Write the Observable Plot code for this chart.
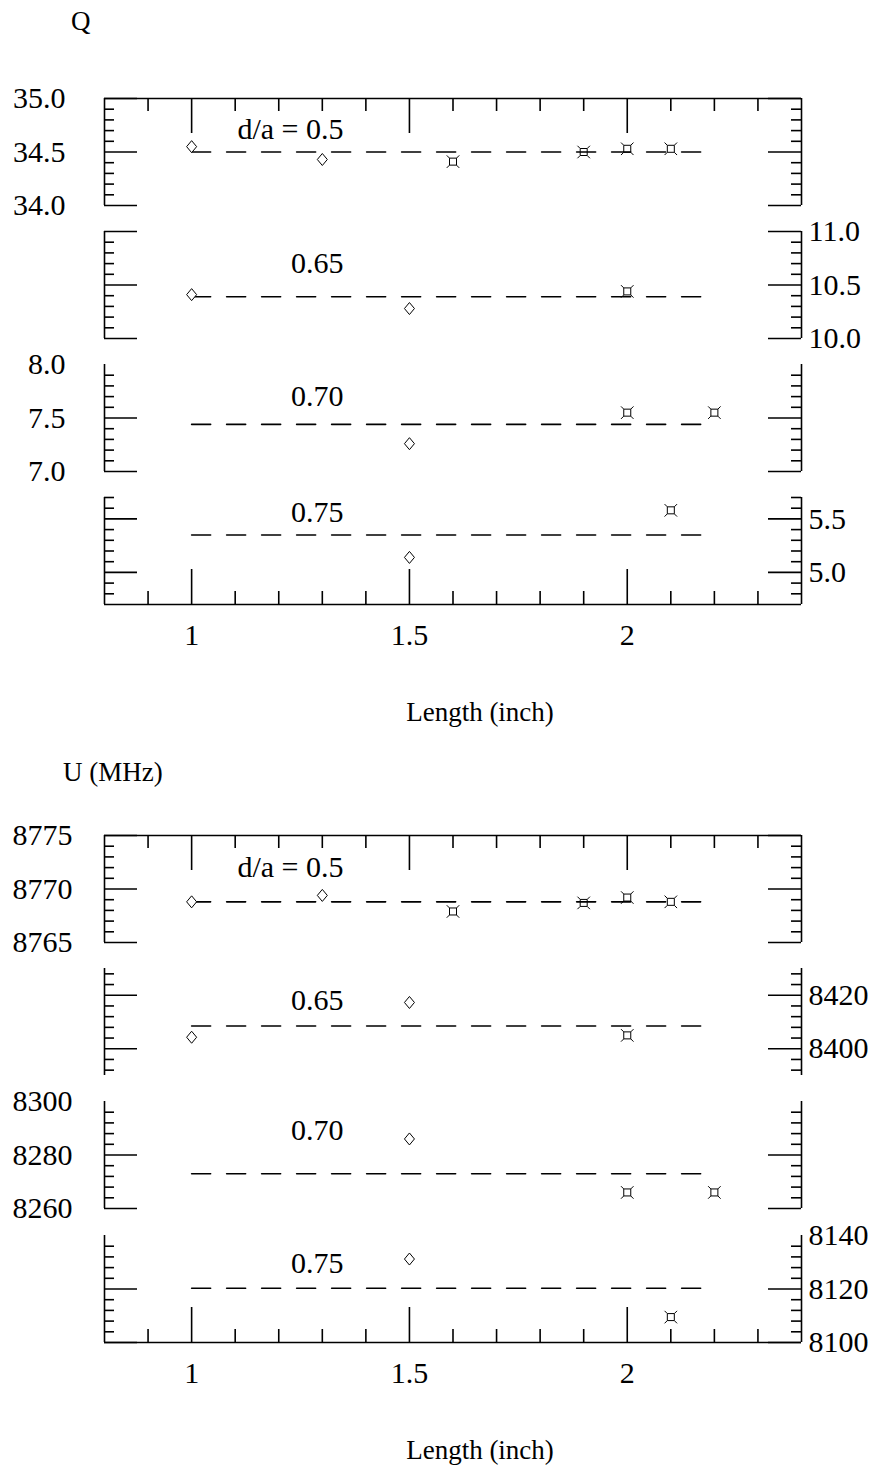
<!DOCTYPE html>
<html><head><meta charset="utf-8">
<script src="https://cdn.jsdelivr.net/npm/d3@7"></script>
<script src="https://cdn.jsdelivr.net/npm/@observablehq/plot@0.6"></script>
<style>
html,body{margin:0;padding:0;background:#fff;}
#root{position:relative;width:885px;height:1469px;font-family:"Liberation Serif","Times New Roman",serif;color:#000;}
.lbl{position:absolute;font-size:27px;line-height:30px;white-space:nowrap;}
.panel{position:absolute;left:0;}
</style></head><body><div id="root"></div>
<script>
// ---------- shared x axis ----------
const xDomain = [0.8, 2.4];
const xMajor = [1, 1.5, 2];
const xMinor = [0.9, 1.1, 1.2, 1.3, 1.4, 1.6, 1.7, 1.8, 1.9, 2.1, 2.2, 2.3];
const refLineX = [1.0, 2.2];
const panelTitles = ["d/a = 0.5", "0.65", "0.70", "0.75"];

// ---------- Q chart ----------
const qDomains = [[34, 35], [10, 11], [7, 8], [4.7, 5.7]];
const qMajor = [[34, 34.5, 35], [10, 10.5, 11], [7, 7.5], [5, 5.5]];
const qMinor = [
  [34.1, 34.2, 34.3, 34.4, 34.6, 34.7, 34.8, 34.9],
  [10.1, 10.2, 10.3, 10.4, 10.6, 10.7, 10.8, 10.9],
  [7.1, 7.2, 7.3, 7.4, 7.6, 7.7, 7.8, 7.9],
  [4.8, 4.9, 5.1, 5.2, 5.3, 5.4, 5.6, 5.7]
];
const qTickLabels = [[34, 34.5, 35], [10, 10.5, 11], [7, 7.5, 8], [5, 5.5]];
const qDiamondX = [[1.0, 1.3], [1.0, 1.5], [1.5], [1.5]];
const qDiamondY = [[34.55, 34.43], [10.41, 10.28], [7.26], [5.14]];
const qSquareX = [[1.6, 1.9, 2.0, 2.1], [2.0], [2.0, 2.2], [2.1]];
const qSquareY = [[34.41, 34.50, 34.53, 34.53], [10.44], [7.55, 7.55], [5.58]];
const qRef = [34.5, 10.39, 7.44, 5.35];

// ---------- U chart ----------
const uDomains = [[8765, 8775], [8390, 8430], [8260, 8300], [8100, 8140]];
const uMajor = [[8765, 8770, 8775], [8400, 8420], [8260, 8280], [8100, 8120]];
const uMinor = [
  [8766, 8767, 8768, 8769, 8771, 8772, 8773, 8774],
  [8392, 8396, 8404, 8408, 8412, 8416, 8424, 8428],
  [8264, 8268, 8272, 8276, 8284, 8288, 8292, 8296],
  [8104, 8108, 8112, 8116, 8124, 8128, 8132, 8136]
];
const uTickLabels = [[8765, 8770, 8775], [8400, 8420], [8260, 8280, 8300], [8100, 8120, 8140]];
const uDiamondX = [[1.0, 1.3], [1.0, 1.5], [1.5], [1.5]];
const uDiamondY = [[8768.8, 8769.4], [8404.3, 8417.3], [8286], [8131.2]];
const uSquareX = [[1.6, 1.9, 2.0, 2.1], [2.0], [2.0, 2.2], [2.1]];
const uSquareY = [[8767.9, 8768.7, 8769.2, 8768.8], [8405], [8266, 8266], [8109.5]];
const uRef = [8768.8, 8408.5, 8273, 8120.3];

// ---------- layout (styles / positions) ----------
const W = 885, ML = 104, MR = 84, PW = W - ML - MR, PH = 107;
const sides = ["left", "right", "left", "right"];
const qTops = [97.5, 230.5, 363.5, 497];
const uTops = [835, 968, 1101, 1235];
const qTitleDy = [30.5, 31.5, 31.5, 15];
const uTitleDy = [32, 32, 29, 28];

const diamondSym = {draw(ctx, size) {
  const r = Math.sqrt(size / Math.PI);
  ctx.moveTo(0, -r * 1.2); ctx.lineTo(r, 0); ctx.lineTo(0, r * 1.2); ctx.lineTo(-r, 0); ctx.closePath();
}};
const squareStarSym = {draw(ctx, size) {
  const r = Math.sqrt(size / Math.PI);
  const s = r * 0.7, t = s + r * 0.55;
  ctx.moveTo(-s, -s); ctx.lineTo(s, -s); ctx.lineTo(s, s); ctx.lineTo(-s, s); ctx.closePath();
  for (const [a, b] of [[-1, -1], [1, -1], [1, 1], [-1, 1]]) {
    ctx.moveTo(a * s, b * s); ctx.lineTo(a * t, b * t);
  }
}};

const root = document.getElementById("root");

function addLabel(text, left, top, center) {
  const d = document.createElement("div");
  d.className = "lbl";
  d.textContent = text;
  d.style.left = left + "px";
  d.style.top = top + "px";
  if (center) d.style.transform = "translateX(-50%)";
  root.appendChild(d);
}

function makePanel(i, cfg) {
  const first = i === 0, last = i === 3;
  const mt = 6, mb = last ? 60 : 6;
  const domain = cfg.domains[i];
  const side = sides[i];
  const diamonds = cfg.dx[i].map((x, k) => ({x, y: cfg.dy[i][k]}));
  const squares = cfg.sx[i].map((x, k) => ({x, y: cfg.sy[i][k]}));
  const refLine = refLineX.map(x => ({x, y: cfg.ref[i]}));
  const sw = 1.6;
  const marks = [
    Plot.ruleX(xDomain, {strokeWidth: sw}),
    Plot.tickY(cfg.major[i], {insetRight: PW - 33, strokeWidth: sw}),
    Plot.tickY(cfg.major[i], {insetLeft: PW - 33, strokeWidth: sw}),
    Plot.tickY(cfg.minor[i], {insetRight: PW - 10, strokeWidth: sw}),
    Plot.tickY(cfg.minor[i], {insetLeft: PW - 10, strokeWidth: sw}),
    Plot.axisY(cfg.labels[i], {
      anchor: side, tickSize: 0, label: null,
      tickPadding: side === "left" ? cfg.leftPad : 7,
      tickFormat: cfg.fmt, fontSize: 30
    }),
    Plot.line(refLine, {x: "x", y: "y", strokeWidth: 1.6, strokeDasharray: "19,16"}),
    Plot.dot(diamonds, {x: "x", y: "y", symbol: diamondSym, r: 5, stroke: "black", fill: "white", strokeWidth: 1}),
    Plot.dot(squares, {x: "x", y: "y", symbol: squareStarSym, r: 5, stroke: "black", fill: "none", strokeWidth: 1}),
    Plot.text([panelTitles[i]], {frameAnchor: "top-left", lineAnchor: "middle", dx: 239, dy: cfg.titleDy[i], textAnchor: "end", fontSize: 30})
  ];
  if (first) {
    marks.push(
      Plot.ruleY([domain[1]], {strokeWidth: sw}),
      Plot.tickX(xMajor, {insetBottom: PH - 35, strokeWidth: sw}),
      Plot.tickX(xMinor, {insetBottom: PH - 13, strokeWidth: sw})
    );
  }
  if (last) {
    marks.push(
      Plot.ruleY([domain[0]], {strokeWidth: sw}),
      Plot.tickX(xMajor, {insetTop: PH - 35, strokeWidth: sw}),
      Plot.tickX(xMinor, {insetTop: PH - 13, strokeWidth: sw}),
      Plot.axisX(xMajor, {anchor: "bottom", tickSize: 0, tickPadding: 19, label: null, tickFormat: d => String(d), fontSize: 30})
    );
  }
  const svg = Plot.plot({
    width: W, height: PH + mt + mb,
    marginLeft: ML, marginRight: MR, marginTop: mt, marginBottom: mb,
    x: {domain: xDomain, axis: null},
    y: {domain: domain, axis: null},
    style: {fontFamily: '"Liberation Serif", "Times New Roman", serif', fontSize: "30px", background: "transparent", color: "black", overflow: "visible"},
    marks
  });
  const wrap = document.createElement("div");
  wrap.className = "panel";
  wrap.style.top = (cfg.tops[i] - mt) + "px";
  wrap.appendChild(svg);
  root.appendChild(wrap);
}

const qCfg = {domains: qDomains, major: qMajor, minor: qMinor, labels: qTickLabels,
  dx: qDiamondX, dy: qDiamondY, sx: qSquareX, sy: qSquareY, ref: qRef,
  tops: qTops, titleDy: qTitleDy, leftPad: 39, fmt: d => d.toFixed(1)};
const uCfg = {domains: uDomains, major: uMajor, minor: uMinor, labels: uTickLabels,
  dx: uDiamondX, dy: uDiamondY, sx: uSquareX, sy: uSquareY, ref: uRef,
  tops: uTops, titleDy: uTitleDy, leftPad: 32, fmt: d => String(d)};

for (let i = 0; i < 4; i++) makePanel(i, qCfg);
for (let i = 0; i < 4; i++) makePanel(i, uCfg);

addLabel("Q", 71, 6, false);
addLabel("U (MHz)", 63, 757, false);
addLabel("Length (inch)", 480, 697, true);
addLabel("Length (inch)", 480, 1435, true);
</script>
</body></html>
